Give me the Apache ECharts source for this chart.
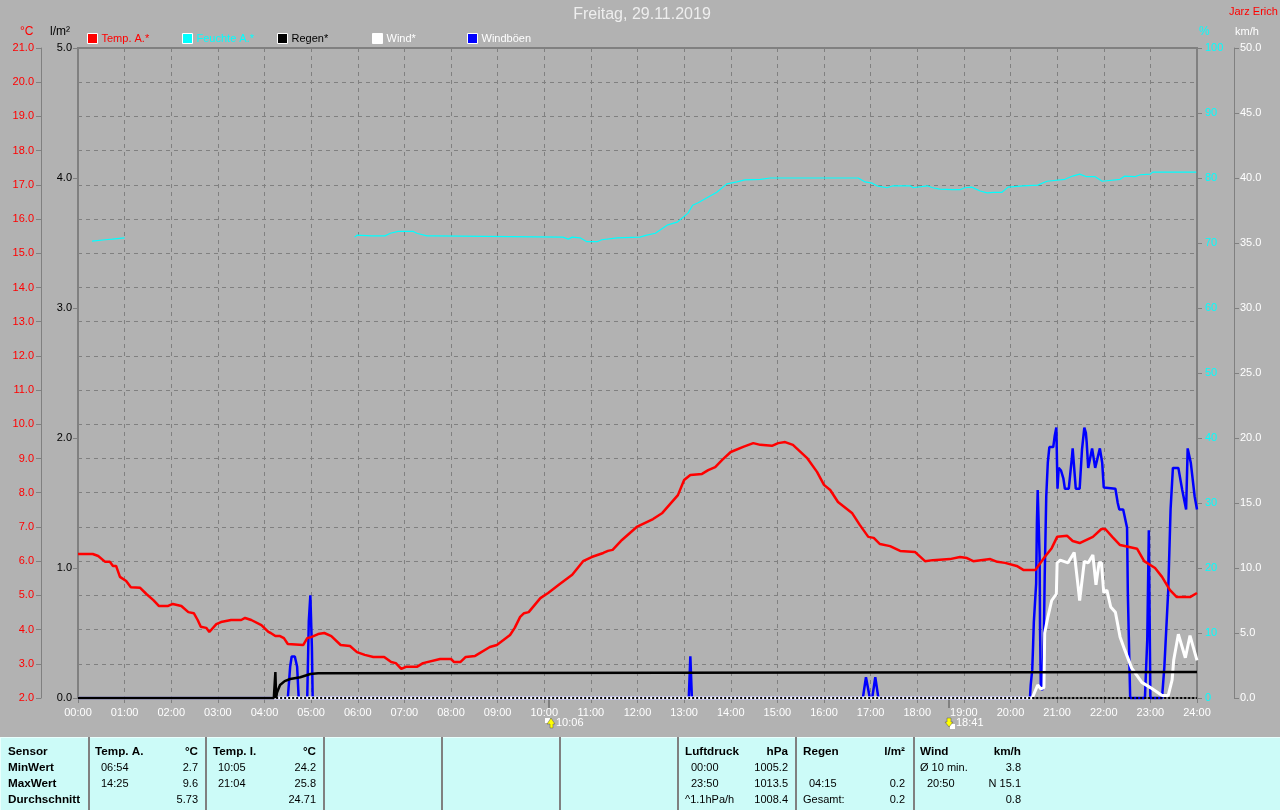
<!DOCTYPE html>
<html>
<head>
<meta charset="utf-8">
<title>Freitag, 29.11.2019</title>
<script src="https://cdn.jsdelivr.net/npm/echarts@6/dist/echarts.min.js"></script>
<style>
  html, body { margin: 0; padding: 0; background: #b2b2b2; }
  #main { width: 1280px; height: 810px; }
</style>
</head>
<body>
<div id="main"></div>
<script>
// [Minute des Tages, Wert]
var tempA = [[0,6.21],[19,6.21],[26,6.15],[35,5.98],[41,5.98],[45,5.86],[49,5.86],[54,5.54],[62,5.42],[68,5.24],[80,5.22],[88,5.04],[97,4.86],[104,4.69],[116,4.69],[122,4.75],[133,4.69],[142,4.51],[149,4.48],[154,4.28],[158,4.08],[165,4.05],[169,3.93],[178,4.16],[184,4.22],[197,4.28],[210,4.28],[215,4.34],[223,4.28],[236,4.13],[245,3.93],[248,3.90],[254,3.81],[260,3.81],[265,3.75],[270,3.58],[290,3.55],[295,3.75],[300,3.78],[309,3.87],[317,3.90],[326,3.81],[338,3.55],[350,3.52],[359,3.34],[369,3.26],[380,3.20],[394,3.20],[403,3.05],[409,3.02],[416,2.85],[422,2.91],[436,2.91],[444,3.02],[466,3.14],[480,3.14],[484,3.05],[492,3.05],[499,3.20],[511,3.23],[530,3.49],[539,3.55],[556,3.84],[562,4.05],[569,4.37],[574,4.48],[580,4.51],[595,4.92],[605,5.07],[620,5.33],[636,5.60],[650,6.00],[661,6.12],[676,6.24],[682,6.30],[688,6.33],[700,6.62],[719,7.00],[740,7.23],[752,7.41],[772,7.93],[780,8.37],[788,8.52],[803,8.55],[811,8.66],[820,8.75],[829,8.96],[840,9.19],[856,9.34],[869,9.45],[878,9.40],[893,9.37],[901,9.45],[910,9.48],[920,9.40],[938,9.02],[951,8.61],[960,8.23],[968,8.08],[978,7.73],[996,7.41],[1006,7.06],[1017,6.71],[1024,6.68],[1032,6.50],[1045,6.44],[1058,6.30],[1077,6.27],[1090,6.00],[1100,6.03],[1122,6.06],[1135,6.12],[1144,6.09],[1152,6.00],[1174,6.06],[1183,5.98],[1193,5.95],[1208,5.86],[1217,5.74],[1232,5.74],[1244,6.12],[1253,6.38],[1260,6.71],[1273,6.74],[1280,6.59],[1289,6.53],[1306,6.71],[1317,6.94],[1322,6.94],[1331,6.71],[1341,6.47],[1363,6.36],[1372,6.00],[1386,5.80],[1395,5.54],[1405,5.16],[1414,4.95],[1431,4.95],[1440,5.07]];

var feuchte = [[18,70.3],[35,70.5],[44,70.6],[60,70.8],[61,null],[355,null],[356,70.9],[359,71.2],[378,71.1],[395,71.1],[402,71.5],[412,71.8],[431,71.8],[436,71.5],[449,71.1],[457,71.1],[624,70.9],[631,70.6],[636,70.9],[646,70.8],[655,70.2],[668,70.2],[674,70.5],[694,70.8],[723,70.9],[732,71.2],[743,71.5],[759,72.8],[771,73.2],[785,74.6],[791,75.8],[798,76.2],[822,77.8],[835,79.1],[848,79.4],[858,79.7],[878,79.8],[891,80.0],[1004,80.0],[1013,79.4],[1022,79.2],[1028,78.8],[1041,78.5],[1049,78.8],[1071,78.8],[1075,78.5],[1093,78.8],[1100,78.5],[1109,78.3],[1125,78.2],[1135,78.2],[1141,78.5],[1150,78.6],[1161,78.0],[1170,77.7],[1178,77.8],[1189,77.8],[1197,78.6],[1216,78.8],[1235,78.9],[1247,79.5],[1270,79.8],[1280,80.3],[1289,80.6],[1298,80.2],[1309,80.2],[1318,79.5],[1341,79.8],[1347,80.3],[1360,80.2],[1367,80.5],[1380,80.6],[1383,80.9],[1439,80.9]];

var regen = [[0,0],[252,0],[254,0.2],[255,0],[256,0.04],[260,0.1],[266,0.13],[273,0.146],[286,0.16],[299,0.185],[309,0.19],[311,0.2],[1440,0.2]];
var regenNull = [[255,0],[1440,0]];

var wind = [[0,0],[1228,0],[1235,1.0],[1239,0.7],[1243,0.8],[1244,5.0],[1248,6.2],[1253,7.5],[1259,8.0],[1260,10.4],[1264,10.6],[1274,10.4],[1282,11.2],[1286,9.1],[1289,7.5],[1295,10.5],[1300,10.4],[1306,11.0],[1310,8.7],[1314,10.4],[1317,10.4],[1320,8.1],[1324,8.3],[1329,7.0],[1335,6.6],[1341,4.7],[1347,3.7],[1356,2.3],[1369,1.2],[1380,0.8],[1395,0.2],[1403,0.2],[1408,1.4],[1410,2.9],[1416,4.9],[1425,3.1],[1431,4.8],[1440,2.9]];

var windboeen = [[0,0],[270,0],[273,2.4],[275,3.2],[279,3.2],[282,2.4],[284,0],[295,0],[297,5.9],[299,7.9],[300,7.9],[301,3.9],[302,0],[786,0],[788,3.2],[789,3.2],[790,0],[1010,0],[1014,1.6],[1019,0],[1022,0],[1026,1.6],[1030,0],[1225,0],[1226,1.0],[1228,2.2],[1229,3.9],[1230,5.8],[1233,8.8],[1234,13.5],[1235,16.0],[1237,16.0],[1237.5,10.8],[1238,5.5],[1239,0.8],[1241,0.6],[1243,5.0],[1244,9.3],[1246,15.5],[1248,18.1],[1250,19.3],[1255,19.3],[1257,20.2],[1259,20.8],[1260,20.8],[1260.5,16.1],[1262,17.7],[1265,17.5],[1268,16.9],[1270,16.1],[1275,16.1],[1279,18.5],[1280,19.2],[1282,19.2],[1284,16.1],[1289,16.1],[1292,19.1],[1295,20.8],[1297,20.4],[1298,19.7],[1300,17.7],[1305,19.2],[1309,17.7],[1315,19.2],[1318,18.1],[1320,16.2],[1335,16.1],[1338,15.0],[1340,14.5],[1345,14.5],[1350,13.1],[1351,8.1],[1354,0],[1373,0],[1376,4.5],[1378,12.9],[1380,0],[1395,0],[1398,2.4],[1403,8.3],[1406,14.5],[1409,17.7],[1416,17.7],[1421,16.0],[1426,14.5],[1428,19.2],[1432,18.1],[1437,15.5],[1440,14.5]];

var legendNames = ['Temp. A.*', 'Feuchte A.*', 'Regen*', 'Wind*', 'Windböen'];
var legendText = ['#ff0000', '#00ffff', '#000000', '#ffffff', '#ffffff'];
var legendColors = ['#ff0000', '#00ffff', '#000000', '#ffffff', '#0000ff'];

var sensorRows = ['Sensor', 'MinWert', 'MaxWert', 'Durchschnitt'];
var tempATimes = ['06:54', '14:25'];
var tempAValues = ['2.7', '9.6', '5.73'];
var tempITimes = ['10:05', '21:04'];
var tempIValues = ['24.2', '25.8', '24.71'];
var druckLabels = ['00:00', '23:50', '^1.1hPa/h'];
var druckValues = ['1005.2', '1013.5', '1008.4'];
var tableLines = [88, 205, 323, 441, 559, 677, 795, 913];

var font = '"Liberation Sans", Arial, sans-serif';
var rowY = [752, 768, 784, 800];

function txt(x, y, text, color, align, size, bold) {
  return {
    type: 'text',
    silent: true,
    style: {
      x: x, y: y, text: text, fill: color,
      align: align || 'left', verticalAlign: 'middle',
      font: (bold ? 'bold ' : '') + (size || 11) + 'px ' + font
    }
  };
}

function bar(x, y, w, h, color) {
  return { type: 'rect', silent: true, shape: { x: x, y: y, width: w, height: h }, style: { fill: color } };
}

function buildTable() {
  let g = [bar(0, 737, 1280, 73, '#ccfbf8'), bar(0, 737, 1280, 1, '#e8fffd'), bar(0, 737, 1, 73, '#e8fffd')];
  tableLines.forEach(function (x) { g.push(bar(x, 737, 2, 73, '#808080')); });
  sensorRows.forEach(function (t, i) { g.push(txt(8, rowY[i], t, '#000', 'left', 11.7, true)); });

  g.push(txt(95, rowY[0], 'Temp. A.', '#000', 'left', 11.7, true), txt(198, rowY[0], '°C', '#000', 'right', 11.7, true));
  tempATimes.forEach(function (t, i) { g.push(txt(101, rowY[i + 1], t, '#000')); });
  tempAValues.forEach(function (t, i) { g.push(txt(198, rowY[i + 1], t, '#000', 'right')); });

  g.push(txt(213, rowY[0], 'Temp. I.', '#000', 'left', 11.7, true), txt(316, rowY[0], '°C', '#000', 'right', 11.7, true));
  tempITimes.forEach(function (t, i) { g.push(txt(218, rowY[i + 1], t, '#000')); });
  tempIValues.forEach(function (t, i) { g.push(txt(316, rowY[i + 1], t, '#000', 'right')); });

  g.push(txt(685, rowY[0], 'Luftdruck', '#000', 'left', 11.7, true), txt(788, rowY[0], 'hPa', '#000', 'right', 11.7, true));
  druckLabels.forEach(function (t, i) { g.push(txt(i < 2 ? 691 : 685, rowY[i + 1], t, '#000')); });
  druckValues.forEach(function (t, i) { g.push(txt(788, rowY[i + 1], t, '#000', 'right')); });

  g.push(txt(803, rowY[0], 'Regen', '#000', 'left', 11.7, true), txt(905, rowY[0], 'l/m²', '#000', 'right', 11.7, true));
  g.push(txt(809, rowY[2], '04:15', '#000'), txt(905, rowY[2], '0.2', '#000', 'right'));
  g.push(txt(803, rowY[3], 'Gesamt:', '#000'), txt(905, rowY[3], '0.2', '#000', 'right'));

  g.push(txt(920, rowY[0], 'Wind', '#000', 'left', 11.7, true), txt(1021, rowY[0], 'km/h', '#000', 'right', 11.7, true));
  g.push(txt(920, rowY[1], 'Ø 10 min.', '#000'), txt(1021, rowY[1], '3.8', '#000', 'right'));
  g.push(txt(927, rowY[2], '20:50', '#000'), txt(1021, rowY[2], 'N 15.1', '#000', 'right'));
  g.push(txt(1021, rowY[3], '0.8', '#000', 'right'));
  return g;
}

function sunIcon(x, rise) {
  // Sonnenauf-/untergang unter der Zeitachse
  let arrow = rise
    ? [[x + 6, 718], [x + 10, 724], [x + 8, 724], [x + 8, 728], [x + 5, 728], [x + 5, 724], [x + 2, 724]]
    : [[x + 2, 718], [x + 6, 718], [x + 6, 722], [x + 8, 722], [x + 4, 727], [x, 722], [x + 2, 722]];
  return [
    bar(x + (rise ? 0 : 5), rise ? 718 : 724, 5, 5, '#ffffff'),
    { type: 'polygon', silent: true, shape: { points: arrow }, style: { fill: '#ffff00', stroke: '#555', lineWidth: 0.5 } },
    bar(x + 3, 698, 2, 10, '#808080')
  ];
}

var legends = legendNames.map(function (name, i) {
  return {
    data: [name],
    left: 87 + i * 95,
    top: 33,
    icon: 'rect',
    itemWidth: 10,
    itemHeight: 10,
    itemGap: 4,
    padding: 0,
    selectedMode: false,
    itemStyle: { color: legendColors[i], borderColor: '#fff', borderWidth: 1 },
    textStyle: { color: legendText[i], fontSize: 11, fontFamily: font, padding: [0, 0, 0, -1] }
  };
});

function lineSeries(name, data, yAxisIndex, color, width, z) {
  return {
    name: name, type: 'line', data: data, xAxisIndex: 0, yAxisIndex: yAxisIndex,
    showSymbol: false, symbol: 'none', clip: false, connectNulls: false, z: z,
    lineStyle: { color: color, width: width, join: 'bevel' },
    itemStyle: { color: color },
    emphasis: { disabled: true }
  };
}

function oneDecimal(v) { return v.toFixed(1); }

function yAxis(pos, offset, min, max, interval, color, lineWidth, fmt, margin, splitLine) {
  return {
    type: 'value', position: pos, offset: offset, min: min, max: max, interval: interval,
    axisLine: { show: true, onZero: false, lineStyle: { color: '#808080', width: lineWidth } },
    axisTick: { show: true, length: 5, lineStyle: { color: '#808080' } },
    axisLabel: { color: color, fontSize: 11, fontFamily: font, margin: margin, formatter: fmt, showMinLabel: true, showMaxLabel: true },
    splitLine: { show: !!splitLine, lineStyle: { color: '#808080', type: [4, 4], width: 1 } }
  };
}

var bottomSeries = lineSeries('Regen-null', regenNull, 1, '#000000', 2, 6);
bottomSeries.lineStyle.type = [2, 2];

var option = {
  animation: false,
  backgroundColor: '#b2b2b2',
  tooltip: { show: false },
  legend: legends,
  grid: { left: 78, right: 83, top: 48, bottom: 112, show: true, borderColor: '#808080', borderWidth: 2, backgroundColor: 'transparent' },
  xAxis: {
    type: 'value', min: 0, max: 1440, interval: 60,
    axisLine: { show: false, onZero: false },
    axisTick: { show: true, length: 5, lineStyle: { color: '#808080' } },
    axisLabel: {
      color: '#ffffff', fontSize: 11, fontFamily: font, margin: 9, showMinLabel: true, showMaxLabel: true,
      formatter: function (v) { return (v < 600 ? '0' : '') + (v / 60) + ':00'; }
    },
    splitLine: { show: true, lineStyle: { color: '#808080', type: [4, 4], width: 1 } }
  },
  yAxis: [
    yAxis('left', 37, 2, 21, 1, '#ff0000', 1, oneDecimal, 7, true),
    yAxis('left', 0, 0, 5, 1, '#000000', 2, oneDecimal, 6, false),
    yAxis('right', 0, 0, 100, 10, '#00ffff', 2, null, 8, false),
    yAxis('right', 37, 0, 50, 5, '#ffffff', 1, oneDecimal, 6, false)
  ],
  series: [
    lineSeries('Windböen', windboeen, 3, '#0000ff', 2.5, 3),
    lineSeries('Wind*', wind, 3, '#ffffff', 3, 4),
    lineSeries('Regen*', regen, 1, '#000000', 2.5, 5),
    bottomSeries,
    lineSeries('Temp. A.*', tempA, 0, '#ff0000', 2.5, 7),
    lineSeries('Feuchte A.*', feuchte, 2, '#00ffff', 1.2, 8)
  ],
  graphic: {
    elements: [
      txt(642, 15, 'Freitag, 29.11.2019', '#eeeeee', 'center', 16),
      txt(1229, 12, 'Jarz Erich', '#ff0000'),
      txt(20, 32, '°C', '#ff0000', 'left', 12),
      txt(50, 32, 'l/m²', '#000000', 'left', 12),
      txt(1199, 32, '%', '#00ffff', 'left', 12),
      txt(1235, 32, 'km/h', '#ffffff'),
      txt(556, 723, '10:06', '#ffffff'),
      txt(956, 723, '18:41', '#ffffff')
    ].concat(sunIcon(545, true), sunIcon(945, false), buildTable())
  }
};

var myChart = echarts.init(document.getElementById('main'), null, { renderer: 'canvas' });
myChart.setOption(option);
</script>
</body>
</html>
